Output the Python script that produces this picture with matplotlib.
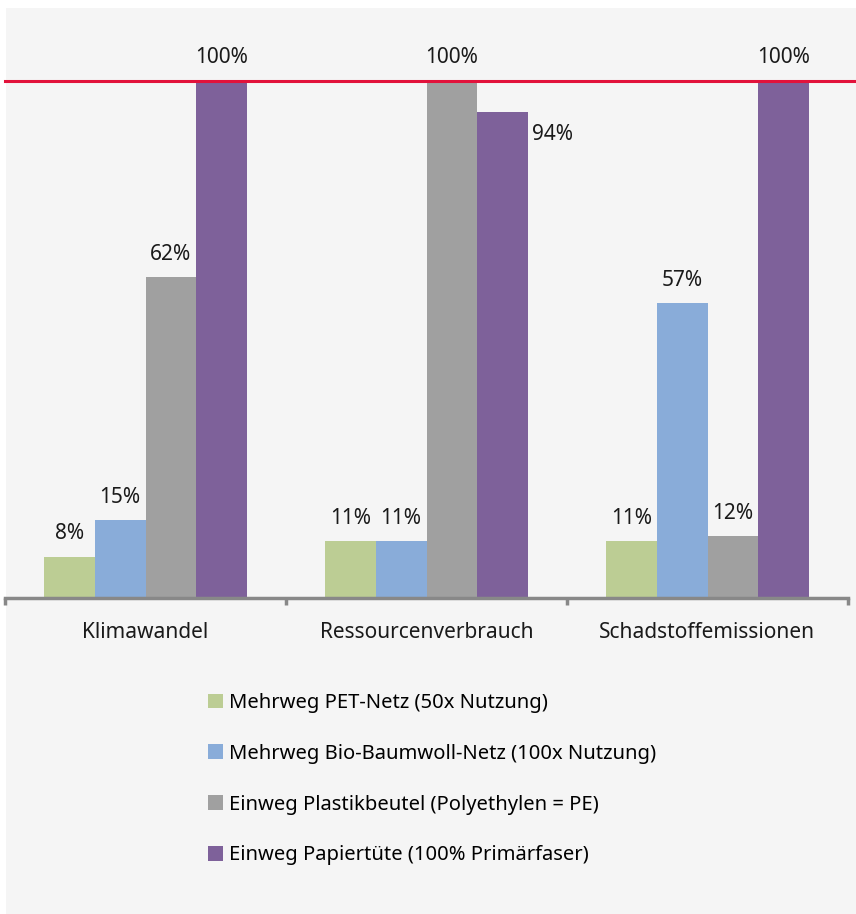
import matplotlib.pyplot as plt
import matplotlib.transforms as mtransforms
from matplotlib.patches import Patch, Rectangle
import numpy as np

plt.rcParams['font.family'] = ['Noto Sans', 'DejaVu Sans']

# Data (in % relative to the worst option)
categories = ["Klimawandel", "Ressourcenverbrauch", "Schadstoffemissionen"]
series = [
    "Mehrweg PET-Netz (50x Nutzung)",
    "Mehrweg Bio-Baumwoll-Netz (100x Nutzung)",
    "Einweg Plastikbeutel (Polyethylen = PE)",
    "Einweg Papiertüte (100% Primärfaser)",
]
pet_netz = [8, 11, 11]
baumwoll_netz = [15, 11, 57]
plastikbeutel = [62, 100, 12]
papiertuete = [100, 94, 100]
values = [pet_netz, baumwoll_netz, plastikbeutel, papiertuete]
colors = ["#bccd94", "#89acd9", "#a0a0a0", "#7e619a"]

fig = plt.figure(figsize=(8.56, 9.14), dpi=100)
fig.patch.set_facecolor("white")
# light grey panel behind everything
fig.patches.append(Rectangle((6 / 856, 0), 1, 1 - 8 / 914, transform=fig.transFigure,
                             facecolor="#f5f5f5", edgecolor="none", zorder=-10))

ax = fig.add_axes([5 / 856, 316 / 914, 843 / 856, 589 / 914])
ax.set_facecolor("none")

x = np.arange(len(categories))
w = 0.181
for j, (vals, col) in enumerate(zip(values, colors)):
    xs = x + (j - 1.5) * w
    ax.bar(xs, vals, width=w, color=col, zorder=2)
    for i, (xi, v) in enumerate(zip(xs, vals)):
        if j == 3 and i == 1:
            # shifted label next to the bar
            ax.annotate(f"{v}%", (xi, v), xytext=(36, -16), textcoords="offset points",
                        ha="center", va="center", fontsize=15, color="#1a1a1a")
        else:
            ax.annotate(f"{v}%", (xi, v), xytext=(0, 16.5), textcoords="offset points",
                        ha="center", va="center", fontsize=15, color="#1a1a1a")

# reference line at 100%
trans = mtransforms.blended_transform_factory(ax.transAxes, ax.transData)
ax.plot([0, 1.01], [100, 100], transform=trans, color="#e2123b", lw=2.2,
        clip_on=False, zorder=3)

ax.set_xlim(-0.5, 2.5)
ax.set_ylim(0, 113.9)
ax.set_yticks([])
for s in ["top", "right", "left"]:
    ax.spines[s].set_visible(False)
ax.spines["bottom"].set_color("#888888")
ax.spines["bottom"].set_linewidth(2.5)
ax.set_xticks(x)
ax.set_xticklabels(categories, fontsize=15, color="#1a1a1a")
ax.tick_params(axis="x", which="major", length=0, pad=17)
ax.set_xticks([-0.5, 0.5, 1.5, 2.5], minor=True)
ax.tick_params(axis="x", which="minor", length=5, width=2.5, color="#888888")

handles = [Patch(facecolor=c, edgecolor="none") for c in colors]
fig.legend(handles, series, loc="upper left", bbox_to_anchor=(200 / 856, 1 - 685 / 914),
           frameon=False, fontsize=14.5, handlelength=0.75, handleheight=0.75,
           handletextpad=0.28, labelspacing=1.53, borderaxespad=0)

fig.savefig("out.png", dpi=100)
